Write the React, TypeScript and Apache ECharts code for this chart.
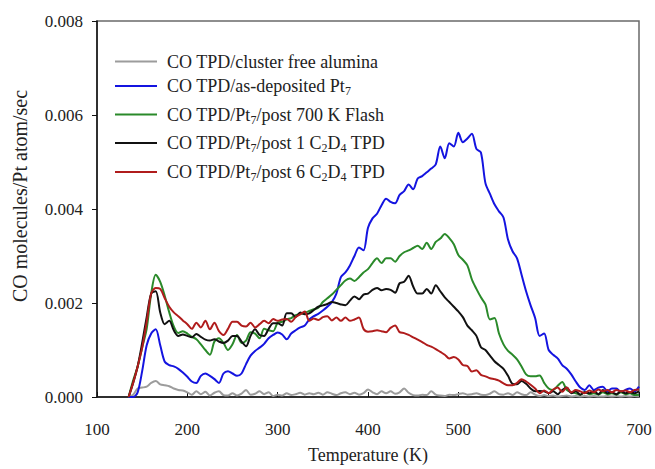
import React, { useEffect, useRef } from "react";
import * as echarts from "echarts";

const temperatures = [
  135, 140, 145, 150, 155, 160, 165, 170, 175, 180,
  185, 190, 195, 200, 205, 210, 215, 220, 225, 230,
  235, 240, 245, 250, 255, 260, 265, 270, 275, 280,
  285, 290, 295, 300, 305, 310, 315, 320, 325, 330,
  335, 340, 345, 350, 355, 360, 365, 370, 375, 380,
  385, 390, 395, 400, 405, 410, 415, 420, 425, 430,
  435, 440, 445, 450, 455, 460, 465, 470, 475, 480,
  485, 490, 495, 500, 505, 510, 515, 520, 525, 530,
  535, 540, 545, 550, 555, 560, 565, 570, 575, 580,
  585, 590, 595, 600, 605, 610, 615, 620, 625, 630,
  635, 640, 645, 650, 655, 660, 665, 670, 675, 680,
  685, 690, 695, 700,
];

const clusterFreeAlumina = [
  0, 0.05e-3, 0.18e-3, 0.2e-3, 0.22e-3, 0.3e-3, 0.34e-3, 0.27e-3, 0.25e-3, 0.23e-3,
  0.18e-3, 0.15e-3, 0.14e-3, 0.1e-3, 0.05e-3, 0.12e-3, 0.06e-3, 0.11e-3, 0.03e-3, 0.09e-3,
  0.12e-3, 0.04e-3, 0.03e-3, 0.08e-3, 0.03e-3, 0.07e-3, 0.15e-3, 0.05e-3, 0.07e-3, 0.12e-3,
  0.06e-3, 0.1e-3, 0.02e-3, 0.05e-3, 0.03e-3, 0.08e-3, 0.04e-3, 0.06e-3, 0.09e-3, 0.05e-3,
  0.08e-3, 0.06e-3, 0.09e-3, 0.05e-3, 0.1e-3, 0.07e-3, 0.04e-3, 0.08e-3, 0.1e-3, 0.06e-3,
  0.09e-3, 0.05e-3, 0.08e-3, 0.16e-3, 0.1e-3, 0.06e-3, 0.12e-3, 0.08e-3, 0.12e-3, 0.07e-3,
  0.1e-3, 0.18e-3, 0.09e-3, 0.04e-3, 0.03e-3, 0.05e-3, 0.04e-3, 0.12e-3, 0.05e-3, 0.03e-3,
  0.02e-3, 0.05e-3, 0.04e-3, 0.06e-3, 0.08e-3, 0.05e-3, 0.06e-3, 0.08e-3, 0.05e-3, 0.04e-3,
  0.07e-3, 0.12e-3, 0.06e-3, 0.05e-3, 0.08e-3, 0.04e-3, 0.1e-3, 0.06e-3, 0.04e-3, 0.1e-3,
  0.05e-3, 0.02e-3, 0.04e-3, 0.02e-3, 0.03e-3, 0.01e-3, 0.02e-3, 0.03e-3, 0.01e-3, 0.02e-3,
  0.01e-3, 0.02e-3, 0.01e-3, 0.02e-3, 0.01e-3, 0.01e-3, 0.02e-3, 0.01e-3, 0.02e-3, 0.01e-3,
  0.02e-3, 0.01e-3, 0.02e-3, 0.01e-3,
];

const asDepositedPt7 = [
  0, 0, 0.1e-3, 0.55e-3, 1.1e-3, 1.35e-3, 1.44e-3, 1.1e-3, 0.75e-3, 0.68e-3,
  0.65e-3, 0.6e-3, 0.52e-3, 0.43e-3, 0.33e-3, 0.3e-3, 0.45e-3, 0.5e-3, 0.45e-3, 0.38e-3,
  0.3e-3, 0.5e-3, 0.55e-3, 0.5e-3, 0.45e-3, 0.5e-3, 0.7e-3, 0.88e-3, 0.98e-3, 1.05e-3,
  1.13e-3, 1.25e-3, 1.32e-3, 1.37e-3, 1.33e-3, 1.23e-3, 1.35e-3, 1.42e-3, 1.48e-3, 1.52e-3,
  1.65e-3, 1.72e-3, 1.77e-3, 1.84e-3, 1.92e-3, 2.02e-3, 2.2e-3, 2.55e-3, 2.65e-3, 2.8e-3,
  3.0e-3, 3.18e-3, 3.12e-3, 3.6e-3, 3.8e-3, 3.9e-3, 4.08e-3, 4.22e-3, 4.15e-3, 4.12e-3,
  4.3e-3, 4.38e-3, 4.52e-3, 4.42e-3, 4.65e-3, 4.7e-3, 4.78e-3, 4.86e-3, 4.95e-3, 5.33e-3,
  5.08e-3, 5.4e-3, 5.33e-3, 5.62e-3, 5.42e-3, 5.5e-3, 5.6e-3, 5.28e-3, 5.2e-3, 4.55e-3,
  4.32e-3, 4.1e-3, 3.95e-3, 3.82e-3, 3.35e-3, 3.1e-3, 2.95e-3, 2.6e-3, 2.25e-3, 1.95e-3,
  1.68e-3, 1.3e-3, 1.35e-3, 1.0e-3, 0.9e-3, 0.82e-3, 0.68e-3, 0.6e-3, 0.48e-3, 0.33e-3,
  0.2e-3, 0.15e-3, 0.25e-3, 0.15e-3, 0.2e-3, 0.22e-3, 0.12e-3, 0.18e-3, 0.18e-3, 0.1e-3,
  0.15e-3, 0.18e-3, 0.12e-3, 0.22e-3,
];

const post700KFlash = [
  0, 0.35e-3, 0.65e-3, 1.05e-3, 1.45e-3, 2.2e-3, 2.6e-3, 2.45e-3, 2.15e-3, 1.8e-3,
  1.5e-3, 1.36e-3, 1.4e-3, 1.35e-3, 1.28e-3, 1.23e-3, 1.12e-3, 1.0e-3, 0.9e-3, 1.18e-3,
  1.25e-3, 1.15e-3, 1.0e-3, 1.12e-3, 1.32e-3, 1.15e-3, 1.2e-3, 1.38e-3, 1.35e-3, 1.25e-3,
  1.45e-3, 1.42e-3, 1.4e-3, 1.58e-3, 1.6e-3, 1.65e-3, 1.68e-3, 1.74e-3, 1.77e-3, 1.79e-3,
  1.83e-3, 1.87e-3, 1.9e-3, 2.02e-3, 2.1e-3, 2.18e-3, 2.28e-3, 2.38e-3, 2.48e-3, 2.52e-3,
  2.47e-3, 2.55e-3, 2.65e-3, 2.72e-3, 2.85e-3, 2.95e-3, 2.85e-3, 2.95e-3, 2.95e-3, 2.88e-3,
  3.0e-3, 3.08e-3, 3.12e-3, 3.17e-3, 3.22e-3, 3.15e-3, 3.28e-3, 3.15e-3, 3.3e-3, 3.37e-3,
  3.47e-3, 3.38e-3, 3.25e-3, 3.02e-3, 2.92e-3, 2.8e-3, 2.5e-3, 2.3e-3, 2.12e-3, 1.97e-3,
  1.65e-3, 1.68e-3, 1.35e-3, 1.12e-3, 0.98e-3, 0.9e-3, 0.8e-3, 0.65e-3, 0.48e-3, 0.44e-3,
  0.44e-3, 0.46e-3, 0.3e-3, 0.18e-3, 0.15e-3, 0.24e-3, 0.32e-3, 0.15e-3, 0.1e-3, 0.08e-3,
  0.05e-3, 0.1e-3, 0.06e-3, 0.08e-3, 0.05e-3, 0.1e-3, 0.06e-3, 0.08e-3, 0.05e-3, 0.1e-3,
  0.06e-3, 0.08e-3, 0.04e-3, 0.05e-3,
];

const post1C2D4 = [
  0, 0.3e-3, 0.65e-3, 1.15e-3, 1.7e-3, 2.2e-3, 2.25e-3, 1.8e-3, 1.55e-3, 1.62e-3,
  1.42e-3, 1.3e-3, 1.33e-3, 1.3e-3, 1.27e-3, 1.34e-3, 1.28e-3, 1.22e-3, 1.2e-3, 1.23e-3,
  1.18e-3, 1.15e-3, 1.2e-3, 1.3e-3, 1.3e-3, 1.18e-3, 1.08e-3, 1.3e-3, 1.44e-3, 1.32e-3,
  1.3e-3, 1.45e-3, 1.57e-3, 1.57e-3, 1.52e-3, 1.78e-3, 1.78e-3, 1.7e-3, 1.8e-3, 1.76e-3,
  1.78e-3, 1.85e-3, 1.92e-3, 1.95e-3, 1.98e-3, 2.02e-3, 2.0e-3, 1.97e-3, 1.95e-3, 2.05e-3,
  2.14e-3, 2.08e-3, 2.18e-3, 2.2e-3, 2.28e-3, 2.32e-3, 2.27e-3, 2.3e-3, 2.28e-3, 2.22e-3,
  2.42e-3, 2.45e-3, 2.58e-3, 2.35e-3, 2.2e-3, 2.2e-3, 2.3e-3, 2.2e-3, 2.38e-3, 2.25e-3,
  2.12e-3, 2.02e-3, 1.92e-3, 1.82e-3, 1.7e-3, 1.52e-3, 1.42e-3, 1.3e-3, 1.06e-3, 1.0e-3,
  0.88e-3, 0.76e-3, 0.68e-3, 0.6e-3, 0.45e-3, 0.28e-3, 0.27e-3, 0.34e-3, 0.28e-3, 0.18e-3,
  0.12e-3, 0.13e-3, 0.12e-3, 0.08e-3, 0.12e-3, 0.06e-3, 0.15e-3, 0.2e-3, 0.08e-3, 0.12e-3,
  0.05e-3, 0.1e-3, 0.08e-3, 0.12e-3, 0.06e-3, 0.15e-3, 0.08e-3, 0.1e-3, 0.06e-3, 0.12e-3,
  0.08e-3, 0.1e-3, 0.08e-3, 0.12e-3,
];

const post6C2D4 = [
  0, 0.3e-3, 0.65e-3, 1.05e-3, 1.6e-3, 2.2e-3, 2.32e-3, 2.3e-3, 2.1e-3, 1.92e-3,
  1.8e-3, 1.72e-3, 1.63e-3, 1.55e-3, 1.45e-3, 1.58e-3, 1.48e-3, 1.62e-3, 1.44e-3, 1.58e-3,
  1.4e-3, 1.32e-3, 1.45e-3, 1.6e-3, 1.6e-3, 1.52e-3, 1.5e-3, 1.58e-3, 1.48e-3, 1.55e-3,
  1.62e-3, 1.57e-3, 1.66e-3, 1.62e-3, 1.65e-3, 1.66e-3, 1.6e-3, 1.7e-3, 1.76e-3, 1.82e-3,
  1.62e-3, 1.67e-3, 1.64e-3, 1.7e-3, 1.72e-3, 1.63e-3, 1.69e-3, 1.62e-3, 1.69e-3, 1.62e-3,
  1.65e-3, 1.69e-3, 1.45e-3, 1.39e-3, 1.4e-3, 1.42e-3, 1.4e-3, 1.38e-3, 1.47e-3, 1.52e-3,
  1.38e-3, 1.36e-3, 1.32e-3, 1.27e-3, 1.22e-3, 1.17e-3, 1.11e-3, 1.07e-3, 1.02e-3, 0.96e-3,
  0.9e-3, 0.82e-3, 0.85e-3, 0.8e-3, 0.68e-3, 0.66e-3, 0.54e-3, 0.57e-3, 0.47e-3, 0.44e-3,
  0.4e-3, 0.38e-3, 0.35e-3, 0.29e-3, 0.25e-3, 0.25e-3, 0.3e-3, 0.38e-3, 0.33e-3, 0.26e-3,
  0.18e-3, 0.08e-3, 0.14e-3, 0.08e-3, 0.16e-3, 0.2e-3, 0.11e-3, 0.2e-3, 0.1e-3, 0.15e-3,
  0.12e-3, 0.08e-3, 0.14e-3, 0.1e-3, 0.16e-3, 0.12e-3, 0.15e-3, 0.1e-3, 0.15e-3, 0.12e-3,
  0.14e-3, 0.1e-3, 0.15e-3, 0.16e-3,
];

const seriesValues = [clusterFreeAlumina, asDepositedPt7, post700KFlash, post1C2D4, post6C2D4];
const seriesColors = ["#9c9c9c", "#1414e0", "#2a8a2a", "#111111", "#b01c1c"];
// rich-text legend labels (subscripts as separate tokens)
const legendLabels = [
  "{a|CO TPD/cluster free alumina}",
  "{a|CO TPD/as-deposited Pt}{s|7}",
  "{a|CO TPD/Pt}{s|7}{a|/post 700 K Flash}",
  "{a|CO TPD/Pt}{s|7}{a|/post 1 C}{s|2}{a|D}{s|4}{a| TPD}",
  "{a|CO TPD/Pt}{s|7}{a|/post 6 C}{s|2}{a|D}{s|4}{a| TPD}",
];
const seriesNames = [
  "CO TPD/cluster free alumina",
  "CO TPD/as-deposited Pt7",
  "CO TPD/Pt7/post 700 K Flash",
  "CO TPD/Pt7/post 1 C2D4 TPD",
  "CO TPD/Pt7/post 6 C2D4 TPD",
];
const legendRowY = [61.5, 86, 114.5, 143, 172];

const xMin = 100;
const xMax = 700;
const xStep = 100;
const yMin = 0;
const yMax = 0.008;
const yStep = 0.002;
const xTitle = "Temperature (K)";
const yTitle = "CO molecules/Pt atom/sec";

const FONT = "Liberation Serif";

export default function App() {
  const ref = useRef<HTMLDivElement>(null);
  useEffect(() => {
    if (!ref.current) return;
    const chart = echarts.init(ref.current, null, { renderer: "svg" });
    const legendGraphics: any[] = [];
    legendLabels.forEach((label, i) => {
      const y = legendRowY[i];
      legendGraphics.push({
        type: "line",
        shape: { x1: 115, y1: y, x2: 157, y2: y },
        style: { stroke: seriesColors[i], lineWidth: 2 },
        z: 100,
      });
      legendGraphics.push({
        type: "text",
        x: 167,
        y: y,
        z: 100,
        style: {
          text: label,
          align: "left",
          verticalAlign: "middle",
          textAlign: "left",
          textVerticalAlign: "middle",
          rich: {
            a: { fontSize: 18, fontFamily: FONT, fill: "#222" },
            s: { fontSize: 12, fontFamily: FONT, fill: "#222", padding: [10, 0, 0, 0] },
          },
        },
      });
    });
    legendGraphics.push({
      type: "text",
      x: 20,
      y: 196,
      rotation: Math.PI / 2,
      style: {
        text: yTitle,
        fontSize: 20,
        fontFamily: FONT,
        fill: "#222",
        align: "center",
        verticalAlign: "middle",
        textAlign: "center",
        textVerticalAlign: "middle",
      },
    });

    chart.setOption({
      animation: false,
      backgroundColor: "#ffffff",
      textStyle: { fontFamily: FONT },
      grid: {
        left: 97,
        right: 16,
        top: 21,
        bottom: 67,
        show: true,
        borderColor: "#6a6a6a",
        borderWidth: 1.5,
        backgroundColor: "transparent",
      },
      xAxis: {
        type: "value",
        min: xMin,
        max: xMax,
        interval: xStep,
        axisLine: { show: true, onZero: false, lineStyle: { color: "#111", width: 1.5 } },
        axisTick: { show: true, inside: true, length: 5, lineStyle: { color: "#111", width: 1 } },
        axisLabel: { fontFamily: FONT, fontSize: 17, color: "#222", margin: 24 },
        splitLine: { show: false },
        name: xTitle,
        nameLocation: "middle",
        nameGap: 49,
        nameTextStyle: { fontFamily: FONT, fontSize: 18, color: "#222" },
      },
      yAxis: {
        type: "value",
        min: yMin,
        max: yMax,
        interval: yStep,
        axisLine: { show: true, lineStyle: { color: "#111", width: 1.5 } },
        axisTick: { show: true, inside: false, length: 5, lineStyle: { color: "#111", width: 1 } },
        axisLabel: {
          fontFamily: FONT,
          fontSize: 17,
          color: "#222",
          margin: 14,
          formatter: (v: number) => v.toFixed(3),
        },
        splitLine: { show: false },
      },
      series: seriesValues.map((vals, i) => ({
        name: seriesNames[i],
        type: "line",
        data: temperatures.map((t, j) => [t, vals[j]]),
        showSymbol: false,
        symbol: "none",
        smooth: 0.3,
        lineStyle: { color: seriesColors[i], width: 2 },
        itemStyle: { color: seriesColors[i] },
        z: 2 + i,
      })),
      graphic: legendGraphics,
    });
    return () => chart.dispose();
  }, []);
  return (
    <div
      ref={ref}
      style={{ position: "absolute", left: 0, top: 0, width: 655, height: 469, background: "#fff" }}
    />
  );
}
